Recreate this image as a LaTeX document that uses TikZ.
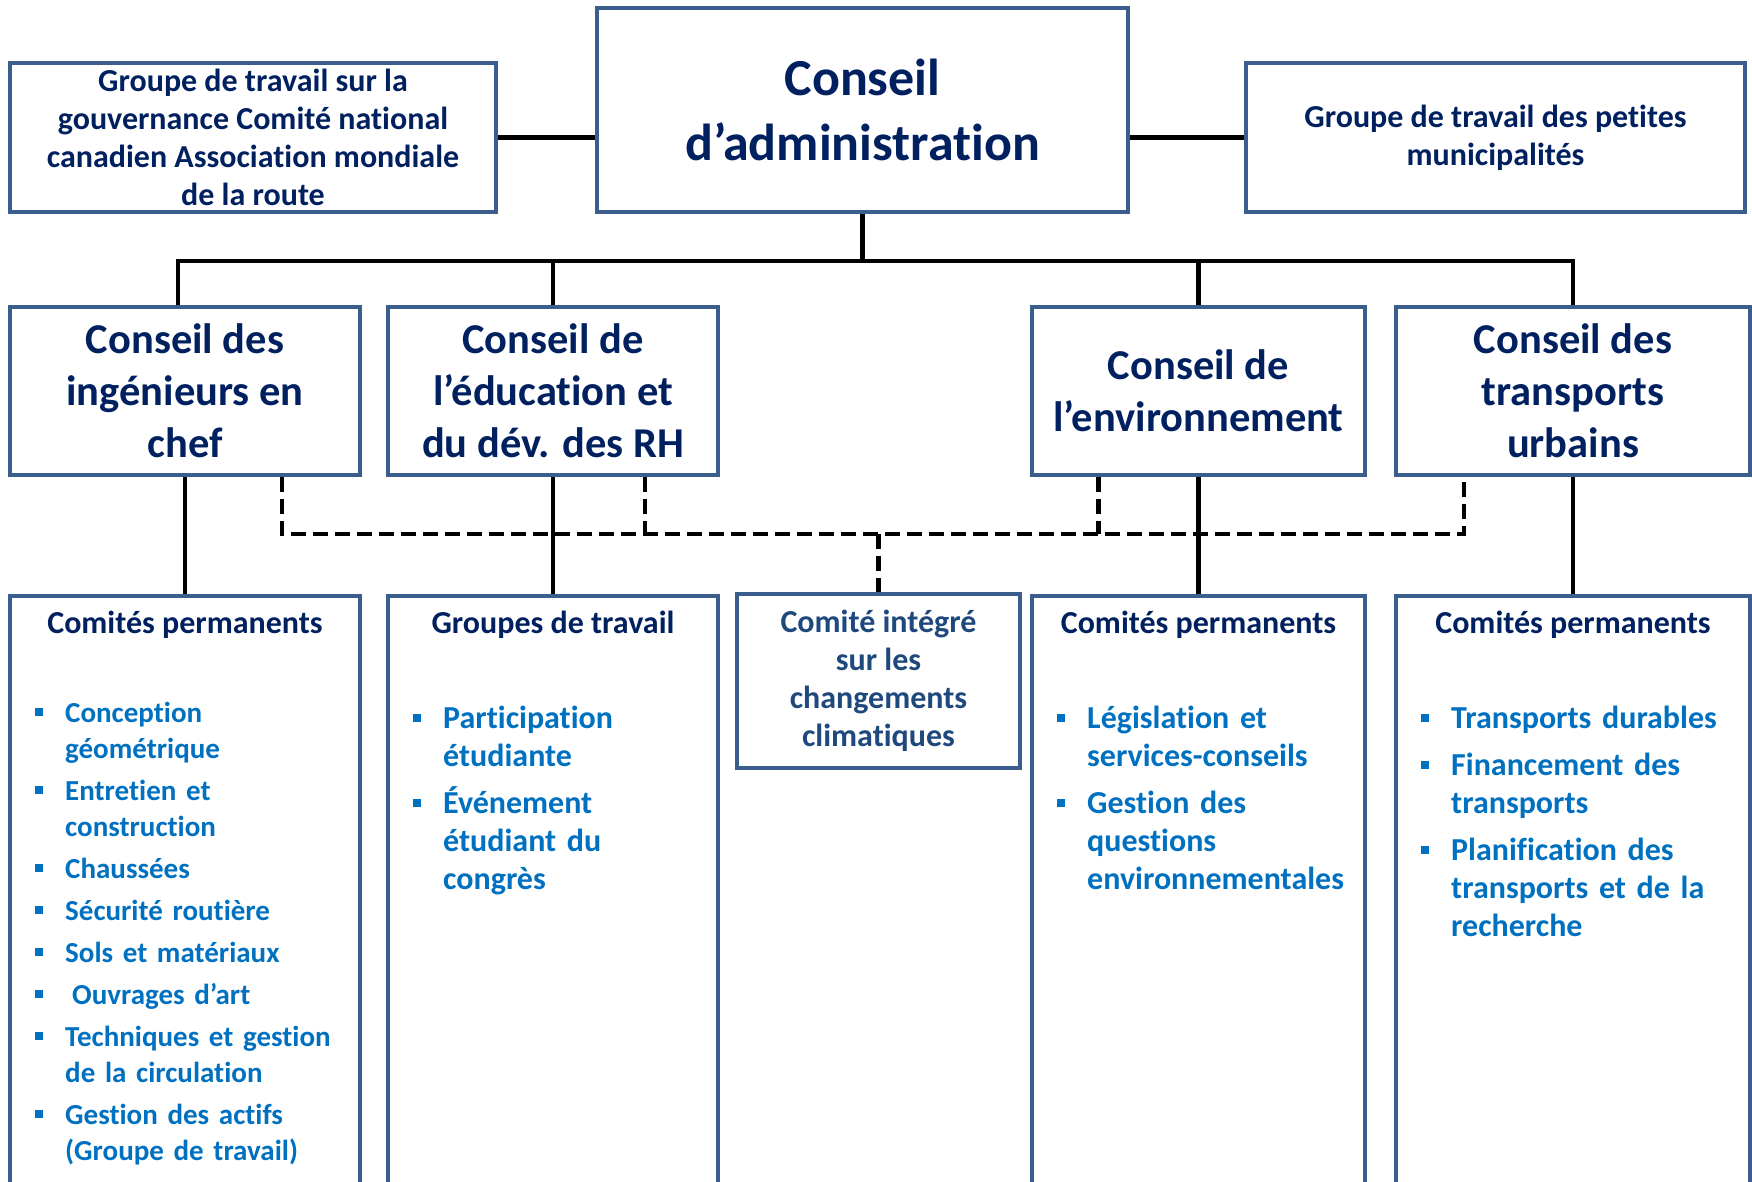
\documentclass[tikz,border=0pt]{standalone}
\usepackage{fontspec}
\setmainfont{Carlito}[Ligatures={TeX,NoCommon}]
\usetikzlibrary{positioning}

\definecolor{cadre}{HTML}{3B5E8C}
\definecolor{marine}{HTML}{002060}
\definecolor{bleupuce}{HTML}{0070C0}
\definecolor{bleuclimat}{HTML}{1F497D}

\newcommand{\tgrand}{\fontsize{52pt}{65pt}\selectfont}
\newcommand{\tmoyen}{\fontsize{42.5pt}{52pt}\selectfont}
\newcommand{\tpetit}{\fontsize{32pt}{38pt}\selectfont}
\newcommand{\tliste}{\fontsize{29pt}{36pt}\selectfont}
\newlength{\ecartpuce}
\newcommand{\puce}[1]{\par\hangindent=30pt\hangafter=1\noindent\makebox[30pt][l]{\rule[0.2em]{8pt}{8pt}}#1\par}
\newcommand{\ecart}{\vspace{\ecartpuce}}

\tikzset{
  boite/.style={draw=cadre, line width=4pt, fill=white, inner sep=0pt, align=center, text=marine, font=\bfseries\tpetit},
  conseil/.style={boite, font=\bfseries\tmoyen, minimum height=168pt},
  comite/.style={boite, anchor=north, minimum height=700pt},
  titre/.style={anchor=base, text=marine, font=\bfseries\tpetit, inner sep=0pt},
  liste/.style={anchor=base west, text=bleupuce, font=\bfseries\tpetit, inner sep=0pt, align=left, text width=300pt},
  lien/.style={line width=4.5pt},
  pointille/.style={line width=4.5pt, dash pattern=on 15pt off 7pt},
}

\begin{document}
\begin{tikzpicture}[x=1pt, y=-1pt]
  \fill[white] (0,0) rectangle (1752,1182);
  \useasboundingbox (0,0) rectangle (1752,1182);
  \clip (0,0) rectangle (1752,1182);

  \node[boite, minimum width=486pt, minimum height=149pt] (gouv) at (253,137.5) {Groupe de travail sur la\\gouvernance Comité national\\canadien Association mondiale\\de la route};
  \node[boite, font=\bfseries\tgrand, minimum width=531pt, minimum height=204pt] (ca) at (862.5,110) {Conseil\\d'administration};
  \node[boite, minimum width=499pt, minimum height=149pt] (muni) at (1495.5,137.5) {Groupe de travail des petites\\municipalités};

  \node[conseil, minimum width=350pt] (ing) at (185,391) {Conseil des\\ingénieurs en\\chef};
  \node[conseil, minimum width=330pt] (edu) at (553,391) {Conseil de\\l'éducation et\\du dév. des RH};
  \node[conseil, minimum width=333pt] (env) at (1198.5,391) {Conseil de\\l'environnement};
  \node[conseil, minimum width=354pt] (urb) at (1573,391) {Conseil des\\transports\\urbains};

  \coordinate (bus) at (863,261);
  \coordinate (tiret) at (0,534);

  \draw[lien] (gouv.east) -- (gouv.east -| ca.west);
  \draw[lien] (ca.east |- muni.west) -- (muni.west);
  \draw[lien] (ca.south) -- (ca.south |- bus);
  \draw[lien] ([xshift=-7pt]ing.north) -- ([xshift=-7pt]ing.north |- bus) -- (urb.north |- bus) -- (urb.north);
  \foreach \n in {edu, env}
    \draw[lien] (\n.north) -- (\n.north |- bus);

  \node[comite, minimum width=350pt] (c1) at (185,594) {};
  \node[comite, minimum width=330pt] (c2) at (553,594) {};
  \node[boite, text=bleuclimat, minimum width=283pt, minimum height=174pt] (clim) at (878.5,681) {\rule{0pt}{6pt}Comité intégré\\sur les\\changements\\climatiques};
  \node[comite, minimum width=333pt] (c4) at (1198.5,594) {};
  \node[comite, minimum width=354pt] (c5) at (1573,594) {};

  \draw[pointille] ([xshift=97pt]ing.south) -- ([xshift=97pt]ing.south |- tiret) -- ([xshift=-109pt]urb.south |- tiret) -- ([xshift=-109pt]urb.south);
  \draw[pointille] ([xshift=92pt]edu.south) -- ([xshift=92pt]edu.south |- tiret);
  \draw[pointille] ([xshift=-100pt]env.south) -- ([xshift=-100pt]env.south |- tiret);
  \draw[pointille] (clim.north |- tiret) -- (clim.north);

  \draw[lien] (ing.south) -- (c1.north);
  \draw[lien] (edu.south) -- (c2.north);
  \draw[lien] (env.south) -- (c4.north);
  \draw[lien] (urb.south) -- (c5.north);

  \node[titre] (t1) at ([yshift=-39pt]c1.north) {Comités permanents};
  \node[titre] (t2) at ([yshift=-39pt]c2.north) {Groupes de travail};
  \node[titre] (t4) at ([yshift=-39pt]c4.north) {Comités permanents};
  \node[titre] (t5) at ([yshift=-39pt]c5.north) {Comités permanents};

  \node[liste, font=\bfseries\tliste] (l1) at ([xshift=27pt, yshift=-92pt]c1.north west) {\setlength{\ecartpuce}{6pt}%
    \puce{Conception\newline géométrique}\ecart
    \puce{Entretien et\newline construction}\ecart
    \puce{Chaussées}\ecart
    \puce{Sécurité routière}\ecart
    \puce{Sols et matériaux}\ecart
    \puce{\hspace{7pt}Ouvrages d'art}\ecart
    \puce{Techniques et gestion\newline de la circulation}\ecart
    \puce{Gestion des actifs\newline (Groupe de travail)}};
  \node[liste] (l2) at ([xshift=27pt, yshift=-96pt]c2.north west) {\setlength{\ecartpuce}{9pt}%
    \puce{Participation\newline étudiante}\ecart
    \puce{Événement\newline étudiant du\newline congrès}};
  \node[liste] (l4) at ([xshift=27pt, yshift=-96pt]c4.north west) {\setlength{\ecartpuce}{9pt}%
    \puce{Législation et\newline services-conseils}\ecart
    \puce{Gestion des\newline questions\newline environnementales}};
  \node[liste] (l5) at ([xshift=27pt, yshift=-96pt]c5.north west) {\setlength{\ecartpuce}{9pt}%
    \puce{Transports durables}\ecart
    \puce{Financement des\newline transports}\ecart
    \puce{Planification des\newline transports et de la\newline recherche}};
\end{tikzpicture}
\end{document}
